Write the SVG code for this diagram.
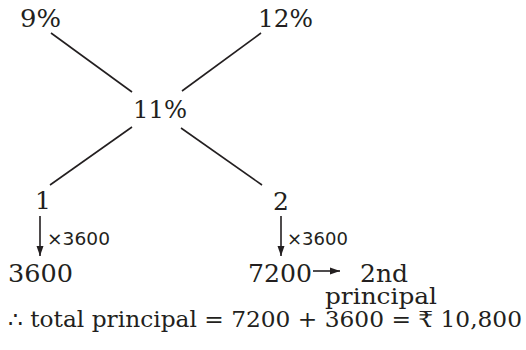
<svg xmlns="http://www.w3.org/2000/svg" width="526" height="350" viewBox="0 0 526 350">
<defs>
<style>
.t{font-family:"DejaVu Serif","Liberation Serif",serif;font-size:25px;fill:#231f20}
.s{font-family:"DejaVu Sans","Liberation Sans",sans-serif;font-size:18px;fill:#231f20}
.l{stroke:#231f20;stroke-width:1.6;fill:none}
</style>
<marker id="ah" viewBox="0 0 10 10" refX="10" refY="5" markerWidth="10" markerHeight="10" markerUnits="userSpaceOnUse" orient="auto">
<path d="M0,1.5 L10,5 L0,8.5 Z" fill="#231f20"/>
</marker>
</defs>
<rect width="526" height="350" fill="#fff"/>
<g id="connectors">
<line class="l" x1="51" y1="33" x2="132" y2="92"/>
<line class="l" x1="261" y1="33" x2="182" y2="91"/>
<line class="l" x1="132" y1="127" x2="50" y2="185"/>
<line class="l" x1="181" y1="128" x2="262" y2="185"/>
<line class="l" x1="40" y1="216" x2="40" y2="256" marker-end="url(#ah)"/>
<line class="l" x1="281" y1="216" x2="281" y2="256" marker-end="url(#ah)"/>
<line class="l" x1="313" y1="271" x2="340" y2="271" marker-end="url(#ah)"/>
</g>
<g id="n9"><text class="t" x="20" y="27" textLength="41" lengthAdjust="spacingAndGlyphs">9%</text></g>
<g id="n12"><text class="t" x="258" y="27" textLength="55" lengthAdjust="spacingAndGlyphs">12%</text></g>
<g id="n11"><text class="t" x="133" y="118" textLength="54" lengthAdjust="spacingAndGlyphs">11%</text></g>
<g id="n1"><text class="t" x="35" y="209">1</text></g>
<g id="n2"><text class="t" x="273" y="210">2</text></g>
<g id="m1"><text class="s" x="47" y="245" textLength="63" lengthAdjust="spacingAndGlyphs">×3600</text></g>
<g id="m2"><text class="s" x="287" y="245" textLength="61" lengthAdjust="spacingAndGlyphs">×3600</text></g>
<g id="n3600"><text class="t" x="8" y="282" textLength="65" lengthAdjust="spacingAndGlyphs">3600</text></g>
<g id="n7200"><text class="t" x="248" y="282" textLength="64" lengthAdjust="spacingAndGlyphs">7200</text></g>
<g id="n2nd"><text class="t" x="360" y="282" textLength="48" lengthAdjust="spacingAndGlyphs">2nd</text>
<text class="t" x="325" y="304" style="font-size:23px" textLength="112" lengthAdjust="spacingAndGlyphs">principal</text></g>
<g id="total"><text class="t" x="8" y="327" style="font-size:22px" textLength="514" lengthAdjust="spacingAndGlyphs">∴ total principal = 7200 + 3600 = ₹ 10,800</text></g>
</svg>
